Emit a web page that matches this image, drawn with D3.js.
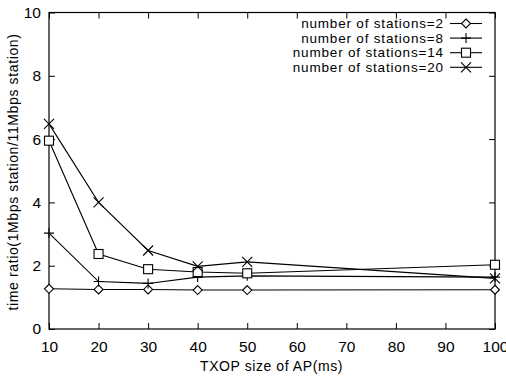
<!DOCTYPE html>
<html><head><meta charset="utf-8">
<script src="https://cdn.jsdelivr.net/npm/d3@7"></script>
<style>body{margin:0;background:#fff}svg{display:block}</style>
</head><body><svg id="c" width="506" height="378"></svg>
<script>
const txop = [10, 20, 30, 40, 50, 100];
const n2  = [1.27, 1.25, 1.25, 1.23, 1.23, 1.24];
const n8  = [3.03, 1.50, 1.44, 1.64, 1.68, 1.64];
const n14 = [5.95, 2.37, 1.89, 1.80, 1.76, 2.03];
const n20 = [6.48, 4.00, 2.48, 1.98, 2.12, 1.60];
const seriesNames = ["number of stations=2","number of stations=8","number of stations=14","number of stations=20"];
const markers = ["diamond","plus","square","cross"];
const xTicks = [10,20,30,40,50,60,70,80,90,100];
const yTicks = [0,2,4,6,8,10];

const svg = d3.select("#c");
const L=49, R=495, T=12.5, B=329;
const x = d3.scaleLinear().domain([10,100]).range([L,R]);
const y = d3.scaleLinear().domain([0,10]).range([B,T]);
const font = "'Liberation Sans', Arial, sans-serif";

function fitSpacing(sel, target){
  const len = sel.node().getComputedTextLength();
  const n = sel.text().length;
  const ls = (target-len)/n;
  sel.style("letter-spacing", ls.toFixed(3)+"px");
  return ls;
}

// frame
svg.append("rect").attr("x",L).attr("y",T).attr("width",R-L).attr("height",B-T)
  .attr("fill","none").attr("stroke","#000").attr("stroke-width",1.2);

// axes
const xb = svg.append("g").attr("transform",`translate(0,${B})`)
  .call(d3.axisBottom(x).tickValues(xTicks).tickSize(-6).tickPadding(12).tickFormat(d3.format("d")));
const xt = svg.append("g").attr("transform",`translate(0,${T})`)
  .call(d3.axisTop(x).tickValues(xTicks).tickSize(-6).tickFormat(""));
const yl = svg.append("g").attr("transform",`translate(${L},0)`)
  .call(d3.axisLeft(y).tickValues(yTicks).tickSize(-6).tickPadding(8).tickFormat(d3.format("d")));
const yr = svg.append("g").attr("transform",`translate(${R},0)`)
  .call(d3.axisRight(y).tickValues(yTicks).tickSize(-6).tickFormat(""));
[xb,xt,yl,yr].forEach(g=>{
  g.select(".domain").remove();
  g.selectAll(".tick line").attr("stroke","#000").attr("stroke-width",1);
  g.selectAll("text").attr("fill","#000").style("font-family",font).style("font-size","15.5px");
});

// axis titles
const xtitle = svg.append("text").attr("x",271.5).attr("y",371).attr("text-anchor","middle")
  .style("font-family",font).style("font-size","14px").text("TXOP size of AP(ms)");
fitSpacing(xtitle,143);
const ytitle = svg.append("text").attr("transform","translate(18,172) rotate(-90)").attr("text-anchor","middle")
  .style("font-family",font).style("font-size","14px").text("time ratio(1Mbps station/11Mbps station)");
fitSpacing(ytitle,277);

function drawMarker(g, type, cx, cy){
  const s=4.5;
  if(type==="diamond"){
    g.append("path").attr("d",`M${cx},${cy-s}L${cx+s},${cy}L${cx},${cy+s}L${cx-s},${cy}Z`)
      .attr("fill","#fff").attr("stroke","#000").attr("stroke-width",1.1);
  } else if(type==="square"){
    g.append("rect").attr("x",cx-s).attr("y",cy-s).attr("width",2*s).attr("height",2*s)
      .attr("fill","#fff").attr("stroke","#000").attr("stroke-width",1.1);
  } else if(type==="plus"){
    g.append("path").attr("d",`M${cx-5},${cy}H${cx+5}M${cx},${cy-5}V${cy+5}`)
      .attr("stroke","#000").attr("stroke-width",1.1);
  } else {
    g.append("path").attr("d",`M${cx-5},${cy-5}L${cx+5},${cy+5}M${cx-5},${cy+5}L${cx+5},${cy-5}`)
      .attr("stroke","#000").attr("stroke-width",1.1);
  }
}

const all = [n2,n8,n14,n20];
const line = d3.line().x(d=>x(d[0])).y(d=>y(d[1]));
all.forEach((vals,i)=>{
  const pts = txop.map((t,j)=>[t,vals[j]]);
  const g = svg.append("g");
  g.append("path").attr("d",line(pts)).attr("fill","none").attr("stroke","#000").attr("stroke-width",1.1);
  pts.forEach(p=>drawMarker(g,markers[i],x(p[0]),y(p[1])));
});

// legend
const lg = svg.append("g");
let lsLeg = 0;
seriesNames.forEach((nm,i)=>{
  const yy = 23.5 + i*14.6;
  const t = lg.append("text").attr("x",443).attr("y",yy).attr("dy","0.35em").attr("text-anchor","end")
    .style("font-family",font).style("font-size","13.5px").text(nm);
  if(i===3){ lsLeg = fitSpacing(t,151); }
  lg.append("line").attr("x1",450).attr("x2",482).attr("y1",yy).attr("y2",yy)
    .attr("stroke","#000").attr("stroke-width",1.1);
  drawMarker(lg,markers[i],466,yy);
});
lg.selectAll("text").style("letter-spacing",lsLeg.toFixed(3)+"px").attr("x",443+lsLeg);
</script></body></html>
